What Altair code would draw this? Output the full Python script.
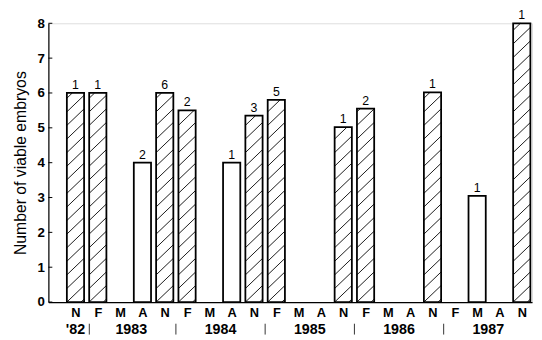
import altair as alt
import pandas as pd

# ---- data ----
months = ["N", "F", "M", "A", "N", "F", "M", "A", "N", "F", "M",
          "A", "N", "F", "M", "A", "N", "F", "M", "A", "N"]
embryos = [6.0, 6.0, 0, 4.0, 6.0, 5.5, 0, 4.0, 5.35, 5.8, 0,
           0, 5.02, 5.55, 0, 0, 6.02, 0, 3.05, 0, 8.0]
counts = ["1", "1", "", "2", "6", "2", "", "1", "3", "5", "",
          "", "1", "2", "", "", "1", "", "1", "", "1"]
hatched = [1, 1, 0, 0, 1, 1, 0, 0, 1, 1, 0,
           0, 1, 1, 0, 0, 1, 0, 0, 0, 1]
year_labels = ["'82", "1983", "1984", "1985", "1986", "1987"]
year_pos = [0, 2.5, 6.5, 10.5, 14.5, 18.5]
sep_pos = [0.62, 4.5, 8.5, 12.5, 16.5]
y_ticks = [0, 1, 2, 3, 4, 5, 6, 7, 8]

W, H = 491, 283
FONT = "Liberation Sans"

df = pd.DataFrame({"i": list(range(len(months))), "month": months,
                   "v": embryos, "n": counts, "h": hatched})
bars_df = df[df.v > 0].reset_index(drop=True)
hatch_df = bars_df[bars_df.h == 1].reset_index(drop=True)
lab_df = bars_df[bars_df.n != ""].reset_index(drop=True)
years_df = pd.DataFrame({"p": year_pos, "t": year_labels})
seps_df = pd.DataFrame({"p": sep_pos})
yt_df = pd.DataFrame({"y": y_ticks})

xscale = alt.Scale(domain=[-1.214, 20.46], nice=False, zero=False)
yscale = alt.Scale(domain=[0, 8], nice=False)

month_expr = "[" + ",".join("'%s'" % m for m in months) + "][datum.value]"

xaxis = alt.Axis(values=list(range(len(months))), labelExpr=month_expr,
                 ticks=False, grid=False, title=None, domainColor="black",
                 domainWidth=1.2, labelFontSize=13, labelFontWeight="bold",
                 labelColor="black", labelPadding=5, labelFont=FONT,
                 labelOverlap=False, labelFlush=False)
yaxis = alt.Axis(values=y_ticks, ticks=False, grid=False, domainColor="black",
                 domainWidth=1.2, labelFontSize=13.5, labelFontWeight="bold",
                 labelColor="black", labelPadding=4, labelFont=FONT,
                 labelOverlap=False, labelFlush=False,
                 title="Number of viable embryos", titleFontSize=16,
                 titleFontWeight="normal", titleColor="black", titlePadding=9,
                 titleFont=FONT)


def X(field):
    return alt.X(field, scale=xscale, axis=xaxis)


def Y(field):
    return alt.Y(field, scale=yscale, axis=yaxis)


HW = 0.386  # half bar width in x units

rect_base = alt.Chart(bars_df).transform_calculate(
    xl=f"datum.i-{HW}", xr=f"datum.i+{HW}", y0="0")

fill = rect_base.mark_rect(fill="white").encode(
    x=X("xl:Q"), x2="xr:Q", y=Y("v:Q"), y2="y0:Q",
)

S, R, Wd = 0.39, 0.474, 2 * HW
hatch = alt.Chart(hatch_df).transform_calculate(
    ks=f"sequence(-2, ceil(datum.v/{S})+2)"
).transform_flatten(["ks"]).transform_calculate(
    yb=f"datum.ks*{S}"
).transform_calculate(
    t0=f"max(0, -datum.yb/{R})",
    t1=f"min(1, (datum.v-datum.yb)/{R})",
).transform_filter("datum.t1 > datum.t0").transform_calculate(
    hx=f"datum.i-{HW}+datum.t0*{Wd}",
    hx2=f"datum.i-{HW}+datum.t1*{Wd}",
    hy=f"datum.yb+datum.t0*{R}",
    hy2=f"datum.yb+datum.t1*{R}",
).mark_rule(color="black", strokeWidth=0.9).encode(
    x=X("hx:Q"), x2="hx2:Q", y=Y("hy:Q"), y2="hy2:Q",
)

outline = rect_base.mark_rect(fill="white", fillOpacity=0, stroke="black",
                              strokeWidth=1.8).encode(
    x=X("xl:Q"), x2="xr:Q", y=Y("v:Q"), y2="y0:Q",
)

labels = alt.Chart(lab_df).mark_text(dy=-8, fontSize=12.5, font=FONT,
                                     color="black").encode(
    x=X("i:Q"), y=Y("v:Q"), text="n:N",
)

years = alt.Chart(years_df).mark_text(fontSize=14.5, fontWeight="bold", font=FONT,
                                      color="black", baseline="middle").encode(
    x=X("p:Q"), y=alt.value(H + 28), text="t:N",
)

seps = alt.Chart(seps_df).mark_rule(color="#333333", strokeWidth=1).encode(
    x=X("p:Q"), y=alt.value(H + 22), y2=alt.value(H + 33),
)

yticks = alt.Chart(yt_df).mark_rule(color="black", strokeWidth=1).encode(
    y=Y("y:Q"), x=alt.value(0), x2=alt.value(4),
)

chart = alt.layer(fill, hatch, outline, labels, years, seps, yticks).properties(
    width=W, height=H,
    autosize=alt.AutoSizeParams(type="none"),
    padding={"left": 41, "top": 13, "right": 2, "bottom": 36},
).configure_view(stroke=None).configure(font=FONT)

chart.save("out.html", embed_options={"renderer": "svg", "actions": False})
